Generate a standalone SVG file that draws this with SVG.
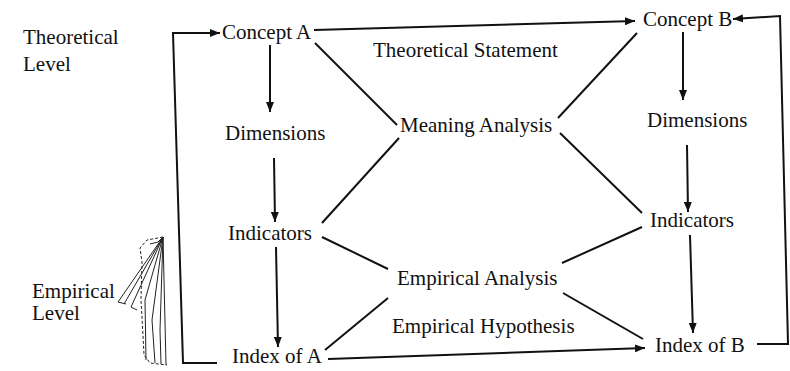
<svg xmlns="http://www.w3.org/2000/svg" width="790" height="371" viewBox="0 0 790 371">
<style>
text{font-family:"Liberation Serif","Times New Roman",serif;font-size:21px;fill:#111}
.ln{stroke:#111;stroke-width:2;fill:none}
.fn{stroke:#222;stroke-width:1;fill:none}
</style>
<defs>
<marker id="ah" viewBox="0 0 10 8" refX="10" refY="4" markerWidth="10" markerHeight="8" markerUnits="userSpaceOnUse" orient="auto">
<path d="M0,0 L10,4 L0,8 Z" fill="#111"/>
</marker>
</defs>
<rect width="790" height="371" fill="#fff"/>
<g id="labels">
<text x="23" y="44">Theoretical</text>
<text x="23" y="71">Level</text>
<text x="32" y="298">Empirical</text>
<text x="32" y="320">Level</text>
<text x="373" y="57">Theoretical Statement</text>
<text x="392" y="333">Empirical Hypothesis</text>
</g>
<g id="concept-a"><text x="222" y="39">Concept A</text></g>
<g id="concept-b"><text x="643" y="26">Concept B</text></g>
<g id="dimensions-a"><text x="225" y="140">Dimensions</text></g>
<g id="dimensions-b"><text x="647" y="127">Dimensions</text></g>
<g id="indicators-a"><text x="228" y="240">Indicators</text></g>
<g id="indicators-b"><text x="650" y="227">Indicators</text></g>
<g id="index-a"><text x="232" y="363">Index of A</text></g>
<g id="index-b"><text x="655" y="352">Index of B</text></g>
<g id="meaning-analysis"><text x="400" y="132">Meaning Analysis</text></g>
<g id="empirical-analysis"><text x="397" y="285">Empirical Analysis</text></g>
<g id="connectors">
<polyline class="ln" points="217,363 183,363 173,33 220,33" marker-end="url(#ah)"/>
<polyline class="ln" points="757,344 788,344 780,16 733,19" marker-end="url(#ah)"/>
<line class="ln" x1="314" y1="30" x2="635" y2="21" marker-end="url(#ah)"/>
<line class="ln" x1="328" y1="359" x2="645" y2="348" marker-end="url(#ah)"/>
<line class="ln" x1="270" y1="45" x2="270" y2="112" marker-end="url(#ah)"/>
<line class="ln" x1="274" y1="158" x2="275" y2="222" marker-end="url(#ah)"/>
<line class="ln" x1="276" y1="247" x2="278" y2="347" marker-end="url(#ah)"/>
<line class="ln" x1="683" y1="32" x2="683" y2="100" marker-end="url(#ah)"/>
<line class="ln" x1="687" y1="145" x2="688" y2="212" marker-end="url(#ah)"/>
<line class="ln" x1="690" y1="235" x2="693" y2="333" marker-end="url(#ah)"/>
<line class="ln" x1="315" y1="43" x2="397" y2="125"/>
<line class="ln" x1="558" y1="118" x2="637" y2="33"/>
<line class="ln" x1="399" y1="138" x2="322" y2="223"/>
<line class="ln" x1="560" y1="133" x2="642" y2="213"/>
<line class="ln" x1="322" y1="237" x2="388" y2="269"/>
<line class="ln" x1="562" y1="263" x2="642" y2="227"/>
<line class="ln" x1="325" y1="350" x2="388" y2="298"/>
<line class="ln" x1="563" y1="293" x2="643" y2="339"/>
</g>
<g id="brace">
<path class="fn" stroke-dasharray="3,2" d="M163,237 L147,240 L140,248 L142,262 L141,300 L143,335 L144,355 L150,363 L167,365"/>
<path class="fn" d="M163,237 L118,302 L126,304 M163,237 L124,304 M163,237 L131,307 L137,310 M163,237 L145,300 L146,360 M163,237 L152,320 L155,363 M163,237 L160,330 L161,364 M163,237 L166,365 M163,237 L158,242 L150,244"/>
</g>
</svg>
